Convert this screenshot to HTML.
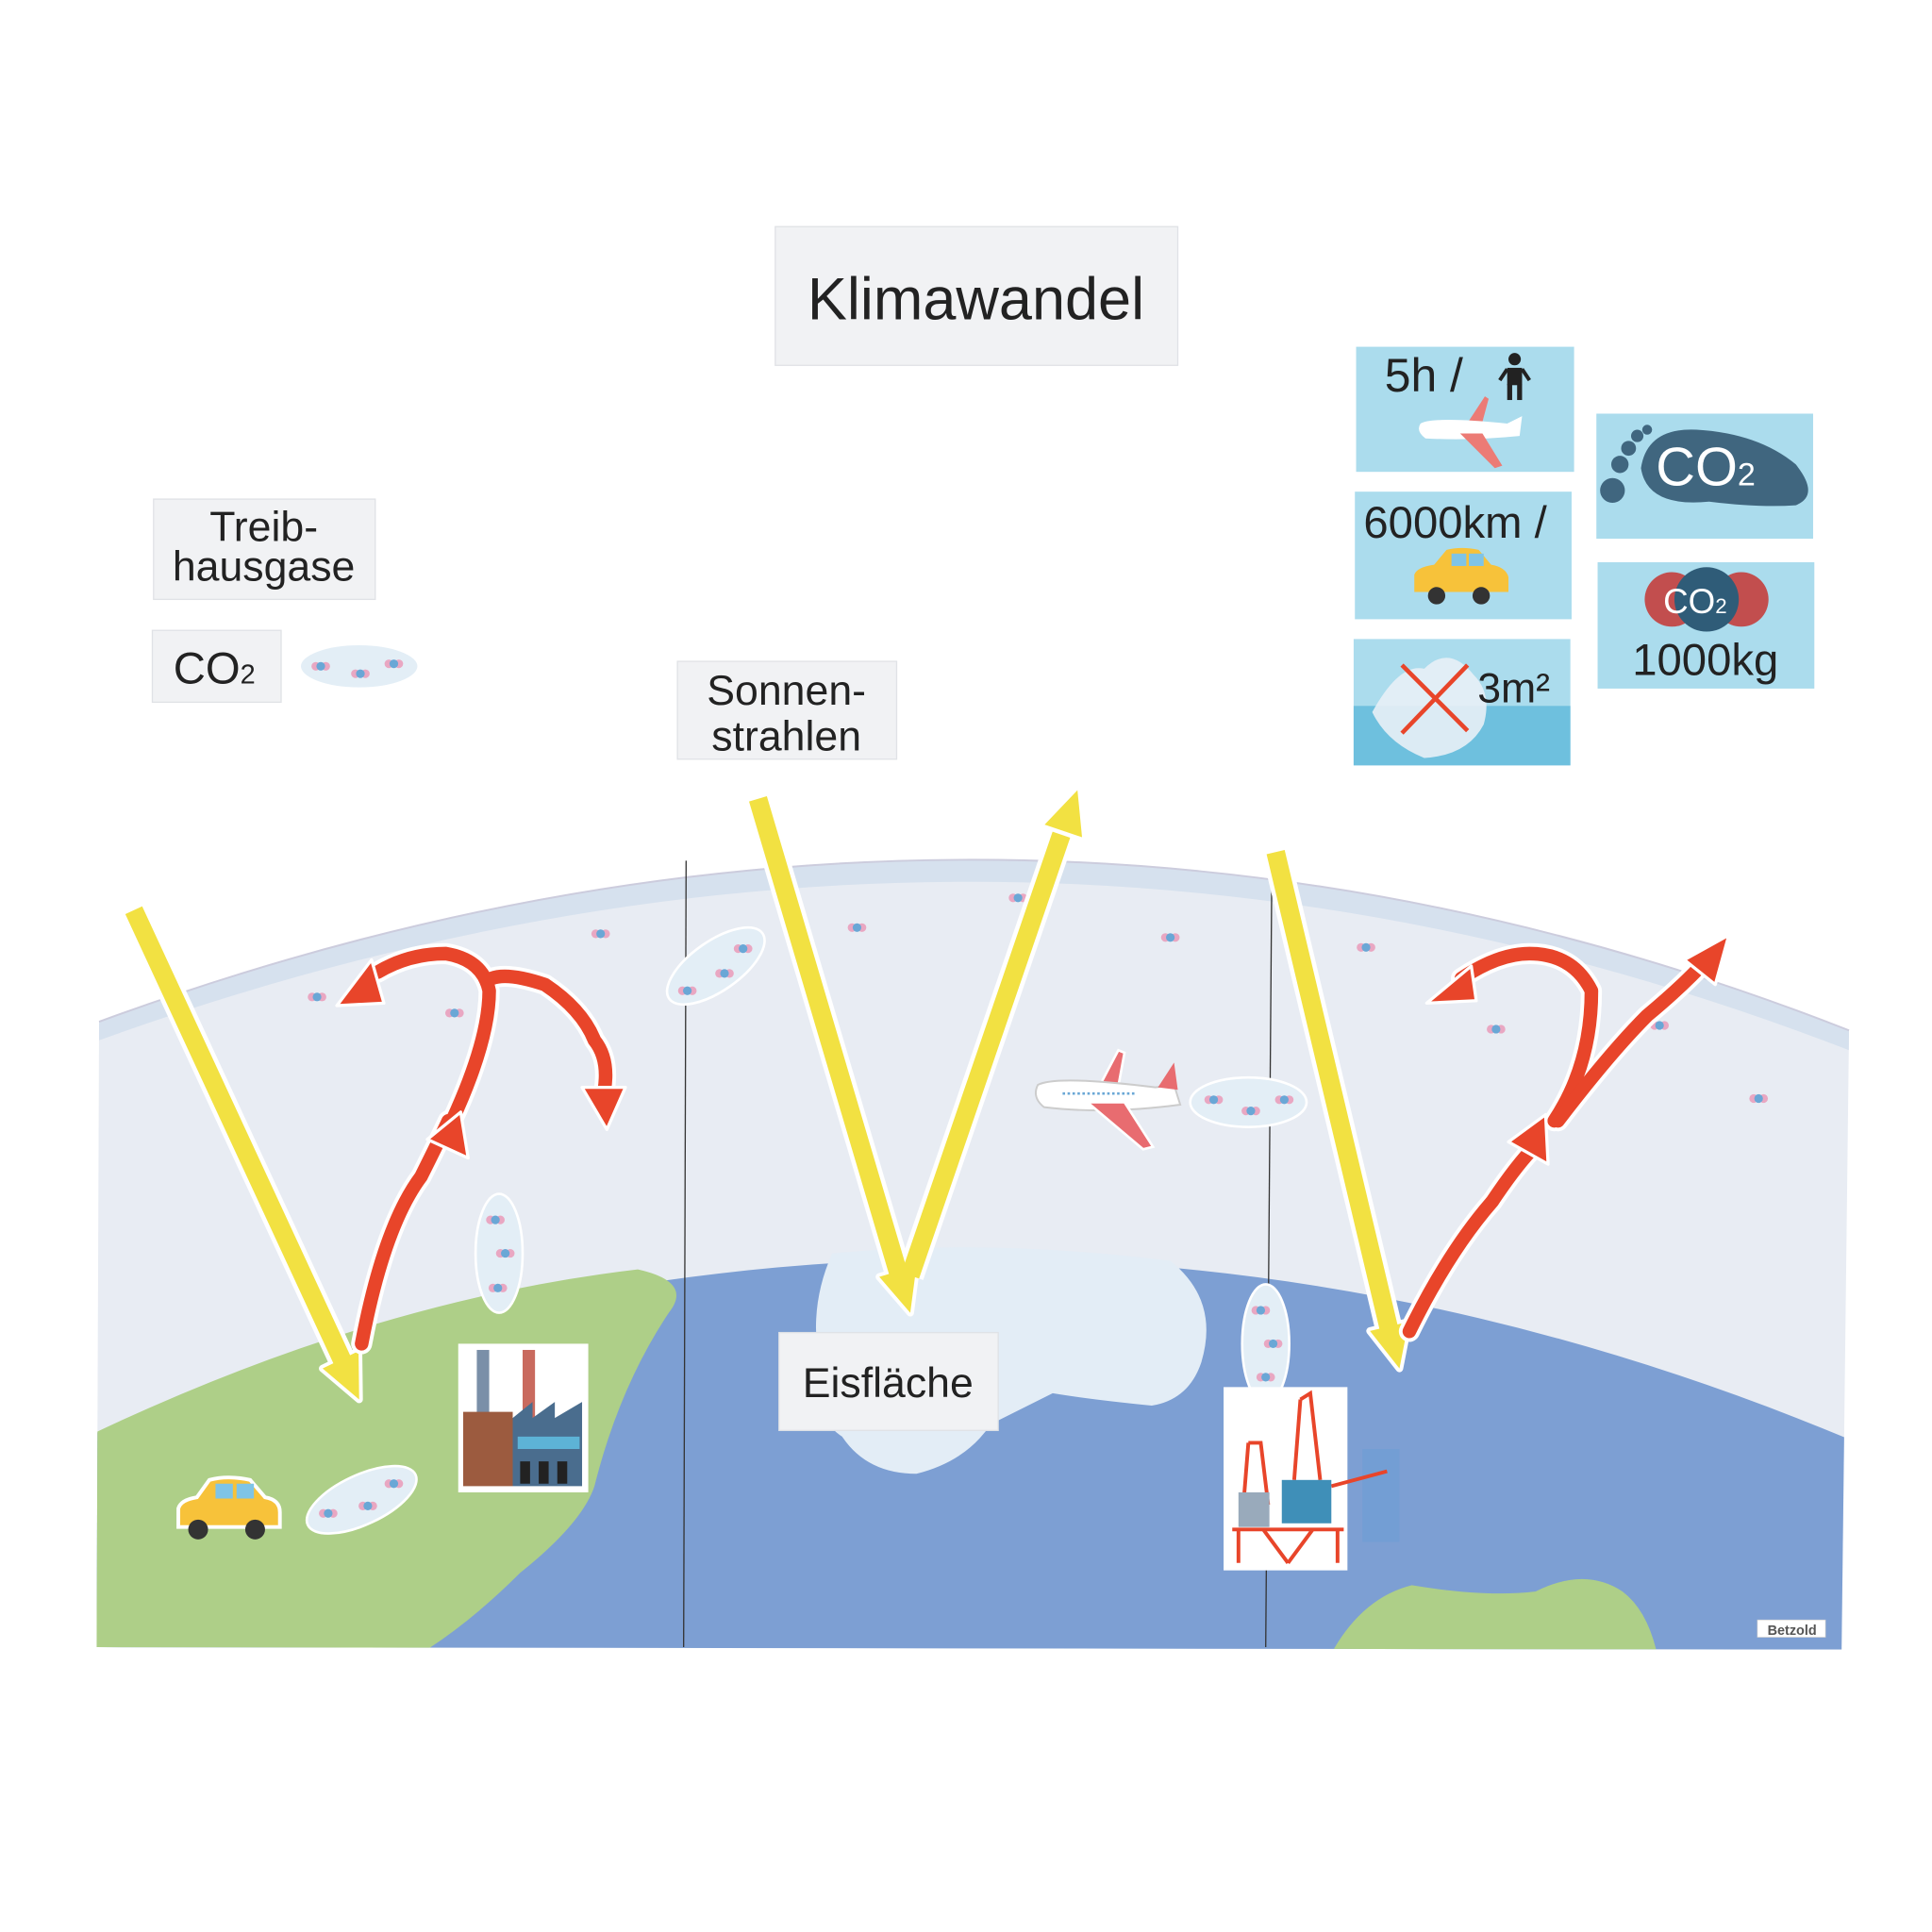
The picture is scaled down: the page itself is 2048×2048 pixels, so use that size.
<!DOCTYPE html>
<html><head><meta charset="utf-8"><style>
html,body{margin:0;padding:0;background:#fff}
svg{display:block}
text{font-family:"Liberation Sans",sans-serif;fill:#222}
</style></head><body>
<svg width="2048" height="2048" viewBox="0 0 1560 1560" xmlns="http://www.w3.org/2000/svg">
<defs>
<clipPath id="board"><path d="M80 825 Q800 560 1493 832 L1487 1332 L78 1330 Z"/></clipPath>
<g id="mol"><circle cx="-4" cy="0" r="3.5" fill="#e9a7c2"/><circle cx="4" cy="0" r="3.5" fill="#e9a7c2"/><circle cx="0" cy="0" r="3.5" fill="#6aa7d6"/></g>
</defs>
<rect width="1560" height="1560" fill="#fff"/>
<g clip-path="url(#board)">
<rect x="70" y="600" width="1440" height="740" fill="#e8ecf3"/>
<path d="M80 825 Q800 560 1493 832 L1493 848 Q800 580 80 840 Z" fill="#d6e1ee"/>
<path d="M70 1160 Q800 870 1500 1165 L1500 1340 L70 1340 Z" fill="#7d9fd3"/>
<path d="M70 1160 Q300 1050 515 1025 Q560 1035 540 1060 Q500 1120 480 1200 Q470 1230 420 1270 Q380 1310 340 1335 L70 1335 Z" fill="#aecf88"/>
<path d="M1075 1335 Q1100 1290 1140 1280 Q1200 1290 1240 1285 Q1280 1265 1310 1285 Q1330 1300 1338 1335 Z" fill="#aecf88"/>
<path d="M672 1012 Q800 1000 945 1018 Q985 1050 970 1100 Q960 1130 930 1135 Q880 1130 850 1125 Q820 1140 800 1150 Q780 1180 740 1190 Q700 1190 680 1160 Q650 1140 660 1090 Q655 1050 672 1012 Z" fill="#e3edf6"/>
<rect x="1100" y="1170" width="30" height="75" fill="#6c9ed6" opacity="0.6"/>
</g>
<path d="M80 825 Q800 560 1493 832" fill="none" stroke="#ccd" stroke-width="1.5"/>
<line x1="554" y1="695" x2="552" y2="1330" stroke="#333" stroke-width="1"/>
<line x1="1027" y1="695" x2="1022" y2="1330" stroke="#333" stroke-width="1"/>
<use href="#mol" x="485" y="754"/><use href="#mol" x="692" y="749"/><use href="#mol" x="945" y="757"/><use href="#mol" x="1103" y="765"/><use href="#mol" x="256" y="805"/><use href="#mol" x="367" y="818"/><use href="#mol" x="1208" y="831"/><use href="#mol" x="1420" y="887"/><use href="#mol" x="822" y="725"/><use href="#mol" x="1340" y="828"/>
<g fill="#e3eef6" stroke="#fff" stroke-width="2">
<ellipse cx="290" cy="538" rx="48" ry="18"/>
<ellipse cx="578" cy="780" rx="46" ry="20" transform="rotate(-35 578 780)"/>
<ellipse cx="403" cy="1012" rx="19" ry="48"/>
<ellipse cx="1008" cy="890" rx="47" ry="20"/>
<ellipse cx="1022" cy="1085" rx="19" ry="48"/>
<ellipse cx="292" cy="1211" rx="48" ry="20" transform="rotate(-25 292 1211)"/>
</g>
<use href="#mol" x="259" y="538"/><use href="#mol" x="291" y="544"/><use href="#mol" x="318" y="536"/>
<use href="#mol" x="555" y="800"/><use href="#mol" x="585" y="786"/><use href="#mol" x="600" y="766"/>
<use href="#mol" x="400" y="985"/><use href="#mol" x="408" y="1012"/><use href="#mol" x="402" y="1040"/>
<use href="#mol" x="980" y="888"/><use href="#mol" x="1010" y="897"/><use href="#mol" x="1037" y="888"/>
<use href="#mol" x="1018" y="1058"/><use href="#mol" x="1028" y="1085"/><use href="#mol" x="1022" y="1112"/>
<use href="#mol" x="265" y="1222"/><use href="#mol" x="297" y="1216"/><use href="#mol" x="318" y="1198"/>
<!-- yellow arrows -->
<g stroke="#fff" stroke-width="22" stroke-linecap="butt">
<line x1="108" y1="735" x2="278" y2="1102"/>
<line x1="612" y1="645" x2="726" y2="1030"/>
<line x1="735" y1="1030" x2="857" y2="674"/>
<line x1="1030" y1="688" x2="1122" y2="1075"/>
</g>
<g fill="#fff" stroke="#fff" stroke-width="6" stroke-linejoin="round">
<polygon points="289.5,1091 260.5,1105 290,1130"/>
<polygon points="740,1022 710,1031 735,1060"/>
<polygon points="873.7,676 843.5,665.8 870,638"/>
<polygon points="1137.4,1067.3 1106.2,1074.7 1130,1105"/>
</g>
<g stroke="#f2e142" stroke-width="15" stroke-linecap="butt">
<line x1="108" y1="735" x2="278" y2="1102"/>
<line x1="612" y1="645" x2="726" y2="1030"/>
<line x1="735" y1="1030" x2="857" y2="674"/>
<line x1="1030" y1="688" x2="1122" y2="1075"/>
</g>
<g fill="#f2e142">
<polygon points="289.5,1091 260.5,1105 290,1130"/>
<polygon points="740,1022 710,1031 735,1060"/>
<polygon points="873.7,676 843.5,665.8 870,638"/>
<polygon points="1137.4,1067.3 1106.2,1074.7 1130,1105"/>
</g>
<!-- red arrows -->
<g fill="none" stroke="#fff" stroke-width="17" stroke-linecap="round" stroke-linejoin="round">
<path d="M292 1085 Q310 990 340 950 Q355 920 362 905"/>
<path d="M365 905 Q395 840 395 800 Q390 775 360 770 Q330 770 305 785"/>
<path d="M397 790 Q410 785 440 795 Q470 815 480 840 Q492 855 488 880"/>
<path d="M1138 1075 Q1170 1010 1205 970 Q1225 940 1240 925"/>
<path d="M1255 905 Q1285 860 1285 800 Q1270 770 1235 770 Q1210 770 1180 790"/>
<path d="M1258 905 Q1300 850 1330 820 Q1360 795 1378 775"/>
</g>
<g fill="none" stroke="#e8452a" stroke-width="11" stroke-linecap="round" stroke-linejoin="round">
<path d="M292 1085 Q310 990 340 950 Q355 920 362 905"/>
<path d="M365 905 Q395 840 395 800 Q390 775 360 770 Q330 770 305 785"/>
<path d="M397 790 Q410 785 440 795 Q470 815 480 840 Q492 855 488 880"/>
<path d="M1138 1075 Q1170 1010 1205 970 Q1225 940 1240 925"/>
<path d="M1255 905 Q1285 860 1285 800 Q1270 770 1235 770 Q1210 770 1180 790"/>
<path d="M1258 905 Q1300 850 1330 820 Q1360 795 1378 775"/>
</g>
<g fill="#e8452a" stroke="#fff" stroke-width="2.5" stroke-linejoin="round">
<polygon points="345,920 372,898 378,935"/>
<polygon points="300,775 272,812 310,810"/>
<polygon points="470,878 505,878 490,912"/>
<polygon points="1218,922 1248,900 1250,940"/>
<polygon points="1188,780 1152,810 1192,808"/>
<polygon points="1360,775 1396,755 1385,795"/>
</g>
<g transform="translate(893 888)">
<path d="M-10 -2 L10 -40 L15 -38 L8 0 Z" fill="#e86c70" stroke="#fff" stroke-width="2"/>
<path d="M-55 -12 Q-40 -20 40 -10 L55 -12 L60 4 Q0 12 -50 6 Q-60 -2 -55 -12 Z" fill="#fff" stroke="#ccc" stroke-width="1.5"/>
<path d="M-15 2 L30 40 L38 38 L15 2 Z" fill="#e86c70" stroke="#fff" stroke-width="2"/>
<path d="M42 -10 L55 -30 L58 -8 Z" fill="#e86c70"/>
<line x1="-35" y1="-5" x2="25" y2="-5" stroke="#6aa7d6" stroke-width="2" stroke-dasharray="2 2"/>
</g>
<g transform="translate(184 1223)">
<path d="M-40 10 L-40 -5 Q-38 -12 -25 -14 L-15 -28 Q0 -32 18 -28 L30 -14 Q42 -12 42 -2 L42 10 Z" fill="#f7c23a" stroke="#fff" stroke-width="3"/>
<rect x="-10" y="-25" width="14" height="12" fill="#7fc4e6"/><rect x="7" y="-25" width="14" height="12" fill="#7fc4e6"/>
<circle cx="-24" cy="12" r="8" fill="#333"/><circle cx="22" cy="12" r="8" fill="#333"/>
</g>
<g>
<rect x="370" y="1085" width="105" height="120" fill="#fff"/>
<rect x="385" y="1090" width="10" height="70" fill="#7a8fa8"/><rect x="422" y="1090" width="10" height="70" fill="#c96a5e"/>
<rect x="374" y="1140" width="40" height="60" fill="#9c5b3f"/>
<path d="M414 1200 L414 1145 L430 1132 L430 1145 L448 1132 L448 1145 L470 1132 L470 1200 Z" fill="#4a6d8e"/>
<rect x="418" y="1160" width="50" height="10" fill="#5db3d6"/>
<rect x="420" y="1180" width="8" height="18" fill="#222"/><rect x="435" y="1180" width="8" height="18" fill="#222"/><rect x="450" y="1180" width="8" height="18" fill="#222"/>
</g>
<g stroke="#e8452a" stroke-width="3" fill="none">
<rect x="988" y="1120" width="100" height="148" fill="#fff" stroke="none"/>
<path d="M1050 1130 L1058 1125 L1066 1195 M1050 1130 L1045 1195 M1008 1165 L1018 1165 L1024 1215 M1008 1165 L1004 1215"/>
<path d="M995 1235 L1085 1235 M1000 1235 L1000 1262 M1080 1235 L1080 1262 M1020 1235 L1040 1262 M1060 1235 L1040 1262 M1075 1200 L1120 1188"/>
</g>
<rect x="1035" y="1195" width="40" height="35" fill="#3f8fb8"/>
<rect x="1000" y="1205" width="25" height="28" fill="#9ab"/>
<g fill="#f1f2f4" stroke="#e0e2e6" stroke-width="1">
<rect x="626" y="183" width="325" height="112"/>
<rect x="124" y="403" width="179" height="81"/>
<rect x="123" y="509" width="104" height="58"/>
<rect x="547" y="534" width="177" height="79"/>
<rect x="629" y="1076" width="177" height="79"/>
</g>
<text x="788" y="258" font-size="48" text-anchor="middle">Klimawandel</text>
<text x="213" y="437" font-size="34" text-anchor="middle">Treib-</text>
<text x="213" y="469" font-size="34" text-anchor="middle">hausgase</text>
<text x="140" y="552" font-size="36">CO<tspan font-size="22">2</tspan></text>
<text x="635" y="569" font-size="34" text-anchor="middle">Sonnen-</text>
<text x="635" y="606" font-size="34" text-anchor="middle">strahlen</text>
<text x="717" y="1128" font-size="34" text-anchor="middle">Eisfläche</text>
<g fill="#abdced">
<rect x="1095" y="280" width="176" height="101"/>
<rect x="1094" y="397" width="175" height="103"/>
<rect x="1093" y="516" width="175" height="102"/>
<rect x="1289" y="334" width="175" height="101"/>
<rect x="1290" y="454" width="175" height="102"/>
</g>
<text x="1118" y="316" font-size="38">5h  /</text>
<g fill="#222"><circle cx="1223" cy="290" r="5"/><rect x="1217" y="297" width="12" height="14"/><rect x="1217" y="310" width="4" height="13"/><rect x="1225" y="310" width="4" height="13"/><path d="M1217 298 L1211 307 M1229 298 L1235 307" stroke="#222" stroke-width="3"/></g>
<g transform="translate(1187 348)">
<path d="M-5 -2 L12 -28 L15 -26 L8 0 Z" fill="#ec7b75"/>
<path d="M-40 -6 Q-30 -12 30 -6 L42 -12 L40 4 Q0 8 -36 6 Q-44 0 -40 -6 Z" fill="#fff"/>
<path d="M-8 2 L20 30 L26 28 L10 2 Z" fill="#ec7b75"/>
</g>
<text x="1101" y="434" font-size="36">6000km  /</text>
<g transform="translate(1180 468)">
<path d="M-38 10 L-38 -4 Q-36 -10 -22 -12 L-12 -24 Q0 -27 14 -24 L24 -12 Q36 -10 38 -2 L38 10 Z" fill="#f7c23a"/>
<rect x="-8" y="-21" width="12" height="10" fill="#7fc4e6"/><rect x="6" y="-21" width="12" height="10" fill="#7fc4e6"/>
<circle cx="-20" cy="13" r="7" fill="#333"/><circle cx="16" cy="13" r="7" fill="#333"/>
</g>
<rect x="1093" y="570" width="175" height="48" fill="#6ec0de"/>
<path d="M1108 575 Q1130 535 1150 540 Q1170 520 1190 545 Q1205 560 1198 585 Q1185 610 1150 612 Q1120 600 1108 575 Z" fill="#e8f0f6" opacity="0.9"/>
<path d="M1132 537 L1185 590 M1185 537 L1132 592" stroke="#e8452a" stroke-width="3.5"/>
<text x="1193" y="567" font-size="34">3m²</text>
<g fill="#40667f">
<path d="M1325 378 Q1330 345 1370 347 Q1420 350 1450 375 Q1470 400 1450 408 Q1420 410 1380 405 Q1330 410 1325 378 Z"/>
<circle cx="1302" cy="396" r="10"/><circle cx="1308" cy="375" r="7"/><circle cx="1315" cy="362" r="6"/><circle cx="1322" cy="352" r="5"/><circle cx="1330" cy="347" r="4"/>
</g>
<text x="1337" y="392" font-size="44" style="fill:#fff">CO<tspan font-size="26">2</tspan></text>
<circle cx="1350" cy="484" r="22" fill="#c24e4e"/><circle cx="1406" cy="484" r="22" fill="#c24e4e"/><circle cx="1378" cy="484" r="26" fill="#2f5c78"/>
<text x="1343" y="495" font-size="28" style="fill:#fff">CO<tspan font-size="17">2</tspan></text>
<text x="1377" y="545" font-size="36" text-anchor="middle">1000kg</text>
<rect x="1419" y="1308" width="55" height="14" fill="#fff" stroke="#ccc" stroke-width="0.5"/>
<text x="1447" y="1320" font-size="11" text-anchor="middle" style="font-weight:bold;fill:#555">Betzold</text>
</svg>
</body></html>
